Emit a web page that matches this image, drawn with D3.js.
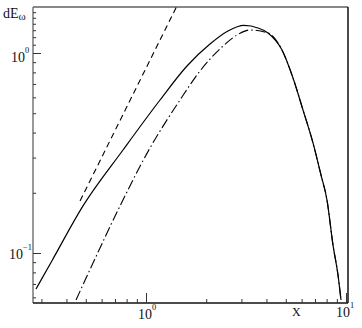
<!DOCTYPE html>
<html><head><meta charset="utf-8">
<script src="https://cdn.jsdelivr.net/npm/d3@7"></script>
<style>body{margin:0;background:#fff}svg{display:block}text{font-family:"Liberation Serif","DejaVu Serif",serif;fill:#111}</style>
</head><body><svg id="c" width="362" height="328"></svg>
<script>
// Solid curve (x, dE_omega)
const solidX = [0.2818,0.3388,0.4842,0.7674,1.175,1.603,2.089,2.570,3.090,3.631,4.074,4.786,5.433,6.095,6.839,7.499,8.035,8.610,9.12,9.44];
const solidY = [0.0661,0.0915,0.1720,0.3273,0.5821,0.861,1.109,1.288,1.373,1.334,1.259,1.035,0.750,0.519,0.355,0.2455,0.184,0.1096,0.0776,0.0582];
// Dash-dot curve
const dashDotX = [0.4467,0.5433,0.7413,1.0471,1.4791,1.862,2.399,2.851,3.311,4.074,4.786,5.433,6.095,6.839,7.499,8.035,8.610,9.12,9.44];
const dashDotY = [0.0582,0.0891,0.1718,0.3350,0.5821,0.8128,1.0715,1.230,1.303,1.259,1.035,0.750,0.519,0.355,0.2455,0.184,0.1096,0.0776,0.0582];
// Dashed asymptote
const dashedX = [0.468,1.42];
const dashedY = [0.1820,1.70];
const xMajor = [1,10];
const yMajor = [0.1,1];
const xMinor = [0.3,0.4,0.5,0.6,0.7,0.8,0.9,2,3,4,5,6,7,8,9];
const yMinor = [0.06,0.07,0.08,0.09,0.2,0.3,0.4,0.5,0.6,0.7,0.8,0.9,1.1,1.2,1.3,1.4,1.5,1.6];

const L=33,R=348,T=7,B=303;
const x = d3.scaleLog().domain([Math.pow(10,-0.565),Math.pow(10,1.01)]).range([L,R]);
const y = d3.scaleLog().domain([Math.pow(10,-1.25),Math.pow(10,0.23)]).range([B,T]);
const svg = d3.select("#c");

svg.append("clipPath").attr("id","cp").append("rect").attr("x",L).attr("y",T).attr("width",R-L).attr("height",B-T);

// frame
svg.append("line").attr("x1",L).attr("x2",R).attr("y1",T).attr("y2",T).attr("stroke","#888").attr("stroke-width",2);
svg.append("line").attr("x1",L).attr("x2",L).attr("y1",T).attr("y2",B).attr("stroke","#777").attr("stroke-width",1.5);
svg.append("line").attr("x1",R).attr("x2",R).attr("y1",T).attr("y2",B).attr("stroke","#111").attr("stroke-width",1.5);
svg.append("line").attr("x1",L).attr("x2",R).attr("y1",B).attr("y2",B).attr("stroke","#111").attr("stroke-width",1.5);

// ticks via axes
const xAxisMaj = d3.axisTop(x).tickValues(xMajor).tickSize(10).tickFormat("");
const xAxisMin = d3.axisTop(x).tickValues(xMinor).tickSize(4).tickFormat("");
const yAxisMaj = d3.axisRight(y).tickValues(yMajor).tickSize(8).tickFormat("");
const yAxisMin = d3.axisRight(y).tickValues(yMinor).tickSize(3).tickFormat("");
[xAxisMaj,xAxisMin].forEach(a=>{const g=svg.append("g").attr("transform",`translate(0,${B})`).call(a);g.select(".domain").remove();g.selectAll("line").attr("stroke","#333");});
[yAxisMaj,yAxisMin].forEach(a=>{const g=svg.append("g").attr("transform",`translate(${L},0)`).call(a);g.select(".domain").remove();g.selectAll("line").attr("stroke","#333");});

const line = d3.line().x(d=>x(d[0])).y(d=>y(d[1])).curve(d3.curveMonotoneX);
const plot = svg.append("g").attr("clip-path","url(#cp)");
plot.append("path").attr("d",line(d3.zip(solidX,solidY))).attr("fill","none").attr("stroke","#000").attr("stroke-width",1.2);
plot.append("path").attr("d",line(d3.zip(dashDotX,dashDotY))).attr("fill","none").attr("stroke","#000").attr("stroke-width",1.1).attr("stroke-dasharray","10,3,1.5,3");
plot.append("path").attr("d",line(d3.zip(dashedX,dashedY))).attr("fill","none").attr("stroke","#000").attr("stroke-width",1.1).attr("stroke-dasharray","6,4");

// labels
function pow(xp,yp,exp,fs){
  const t=svg.append("text").attr("x",xp).attr("y",yp).attr("font-size",fs);
  t.append("tspan").text("10");
  t.append("tspan").attr("dy",-9).attr("font-size",fs*0.6).text(exp);
}
pow(11,62,"0",14);
pow(9,259,"\u22121",14);
pow(138,319,"0",14);
pow(336,317,"1",14);
svg.append("text").attr("x",292).attr("y",316).attr("font-size",12).text("X");
const dl=svg.append("text").attr("x",3).attr("y",18).attr("font-size",14);
dl.append("tspan").text("dE");
dl.append("tspan").attr("dy",2).attr("font-size",11).text("\u03c9");
</script></body></html>
